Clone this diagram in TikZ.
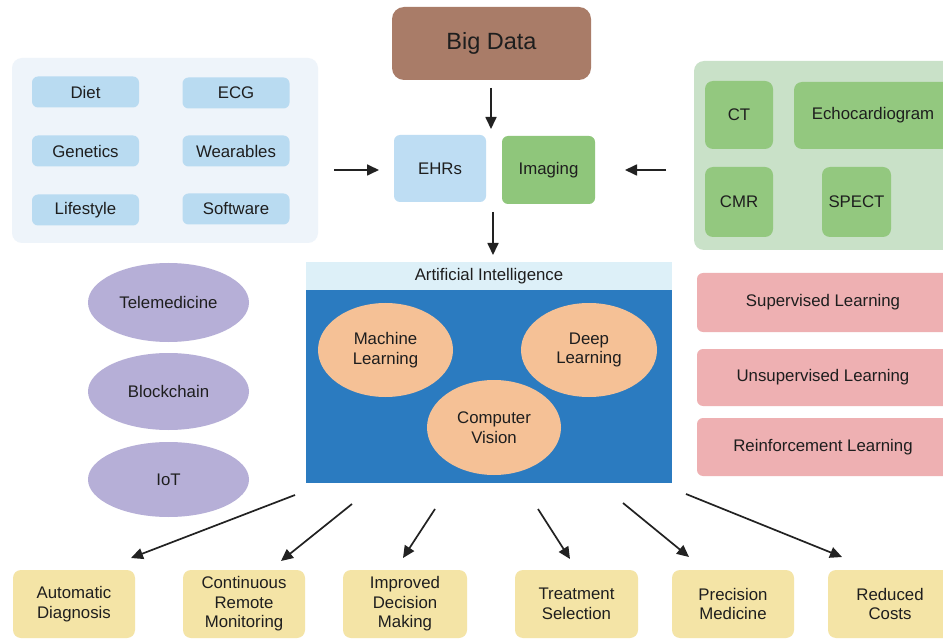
\documentclass[tikz,border=0pt]{standalone}
\usepackage{fontspec}
\setmainfont{Liberation Sans}
\usetikzlibrary{arrows.meta,shapes.geometric}
\definecolor{lpanelfill}{HTML}{EEF4FA}
\definecolor{lboxfill}{HTML}{B9DBF1}
\definecolor{bigdatafill}{HTML}{A97C68}
\definecolor{ehrfill}{HTML}{BEDDF3}
\definecolor{imgfill}{HTML}{8FC67B}
\definecolor{rpanelfill}{HTML}{C9E1C8}
\definecolor{rboxfill}{HTML}{93C87F}
\definecolor{aititlefill}{HTML}{DDF0F8}
\definecolor{aibluefill}{HTML}{2B7BC0}
\definecolor{peachfill}{HTML}{F5C196}
\definecolor{lavfill}{HTML}{B6AFD7}
\definecolor{pinkfill}{HTML}{EEB0B2}
\definecolor{yelfill}{HTML}{F4E4A6}
\definecolor{txtcol}{HTML}{1E1E1E}
\definecolor{arrcol}{HTML}{222222}
\newcommand{\lblfont}{\fontsize{16.8}{19.5}\selectfont}
\tikzset{
  base/.style={rectangle, draw=none, inner sep=0pt, align=center, font=\lblfont, text=txtcol},
  rbox/.style={base, rounded corners=6pt},
  lbox/.style={rbox, fill=lboxfill, minimum width=107pt, minimum height=31pt},
  gbox/.style={rbox, fill=rboxfill, rounded corners=8pt},
  pbox/.style={rbox, fill=pinkfill, minimum width=252pt},
  ybox/.style={rbox, fill=yelfill, minimum height=68pt, rounded corners=8pt},
  oval/.style={ellipse, draw=none, inner sep=0pt, align=center, font=\lblfont, text=txtcol},
  peach/.style={oval, fill=peachfill},
  lav/.style={oval, fill=lavfill, minimum width=161pt},
  arr/.style={draw=arrcol, line width=1.7pt, -{Triangle[length=12pt,width=11pt]}},
}
\begin{document}
\begin{tikzpicture}[x=1pt,y=-1pt]
\useasboundingbox (0,0) rectangle (943,639);
\clip (0,0) rectangle (943,639);
\fill[white] (0,0) rectangle (943,639);

% left panel
\node[rbox, fill=lpanelfill, rounded corners=10pt, minimum width=306pt, minimum height=185pt] (lpanel) at (165,150.5) {};
\node[lbox] (diet) at (85.5,92) {Diet};
\node[lbox] (ecg) at (236,93) {ECG};
\node[lbox] (gen) at (85.5,151) {Genetics};
\node[lbox] (wear) at (236,151) {Wearables};
\node[lbox] (life) at (85.5,210) {Lifestyle};
\node[lbox] (soft) at (236,209) {Software};

% top center
\node[rbox, fill=bigdatafill, rounded corners=12pt, minimum width=199pt, minimum height=73pt, font=\fontsize{23.5}{26}\selectfont] (bigdata) at (491.5,43.5) {Big Data};
\node[rbox, fill=ehrfill, minimum width=92pt, minimum height=67pt] (ehr) at (440,168.5) {EHRs};
\node[rbox, fill=imgfill, minimum width=93pt, minimum height=68pt] (img) at (548.5,170) {Imaging};

% right panel
\node[rbox, fill=rpanelfill, rounded corners=10pt, minimum width=261pt, minimum height=189pt] (rpanel) at (824.5,155.5) {};
\node[gbox, minimum width=68pt, minimum height=68pt] (ct) at (739,115) {CT};
\node[gbox, minimum width=158pt, minimum height=67pt] (echo) at (873,115.5) {Echocardiogram};
\node[gbox, minimum width=68pt, minimum height=70pt] (cmr) at (739,202) {CMR};
\node[gbox, minimum width=69pt, minimum height=70pt] (spect) at (856.5,202) {SPECT};

% AI block
\node[base, fill=aititlefill, minimum width=366pt, minimum height=28pt] (aititle) at (489,276) {Artificial Intelligence};
\node[base, fill=aibluefill, minimum width=366pt, minimum height=193pt] (aibody) at (489,386.5) {};
\node[peach, minimum width=135pt, minimum height=94pt] (ml) at (385.5,350) {Machine\\Learning};
\node[peach, minimum width=136pt, minimum height=94pt] (dl) at (589,350) {Deep\\Learning};
\node[peach, minimum width=134pt, minimum height=95pt] (cv) at (494,427.5) {Computer\\Vision};

% left ellipses
\node[lav, minimum height=79pt] (tele) at (168.5,302.5) {Telemedicine};
\node[lav, minimum height=77pt] (block) at (168.5,391.5) {Blockchain};
\node[lav, minimum height=75pt] (iot) at (168.5,479.5) {IoT};

% right pink boxes
\node[pbox, minimum height=59pt] (sup) at (823,302.5) {Supervised Learning};
\node[pbox, minimum height=57pt] (unsup) at (823,377.5) {Unsupervised Learning};
\node[pbox, minimum height=58pt] (reinf) at (823,447) {Reinforcement Learning};

% bottom boxes
\node[ybox, minimum width=122pt] (auto) at (74,604) {Automatic\\Diagnosis};
\node[ybox, minimum width=122pt] (cont) at (244,604) {Continuous\\Remote\\Monitoring};
\node[ybox, minimum width=124pt] (impr) at (405,604) {Improved\\Decision\\Making};
\node[ybox, minimum width=123pt] (treat) at (576.5,604) {Treatment\\Selection};
\node[ybox, minimum width=122pt] (prec) at (733,604) {Precision\\Medicine};
\node[ybox, minimum width=124pt] (cost) at (890,604) {Reduced\\Costs};

% arrow end points
\coordinate (bdA) at (491,88);
\coordinate (bdB) at (491,129);
\coordinate (lA) at (334,170);
\coordinate (lB) at (379,170);
\coordinate (rA) at (666,170);
\coordinate (rB) at (625,170);
\coordinate (dA) at (493,212);
\coordinate (dB) at (493,255);
\coordinate (o1A) at (295,495);
\coordinate (o1B) at (131,558);
\coordinate (o2A) at (352,504);
\coordinate (o2B) at (281,561);
\coordinate (o3A) at (435,509);
\coordinate (o3B) at (403,558);
\coordinate (o4A) at (538,509);
\coordinate (o4B) at (570,559);
\coordinate (o5A) at (623,503);
\coordinate (o5B) at (689,557);
\coordinate (o6A) at (686,494);
\coordinate (o6B) at (842,557);

\draw[arr] (bdA) -- (bdB);
\draw[arr] (lA) -- (lB);
\draw[arr] (rA) -- (rB);
\draw[arr] (dA) -- (dB);
\draw[arr] (o1A) -- (o1B);
\draw[arr] (o2A) -- (o2B);
\draw[arr] (o3A) -- (o3B);
\draw[arr] (o4A) -- (o4B);
\draw[arr] (o5A) -- (o5B);
\draw[arr] (o6A) -- (o6B);
\end{tikzpicture}
\end{document}
